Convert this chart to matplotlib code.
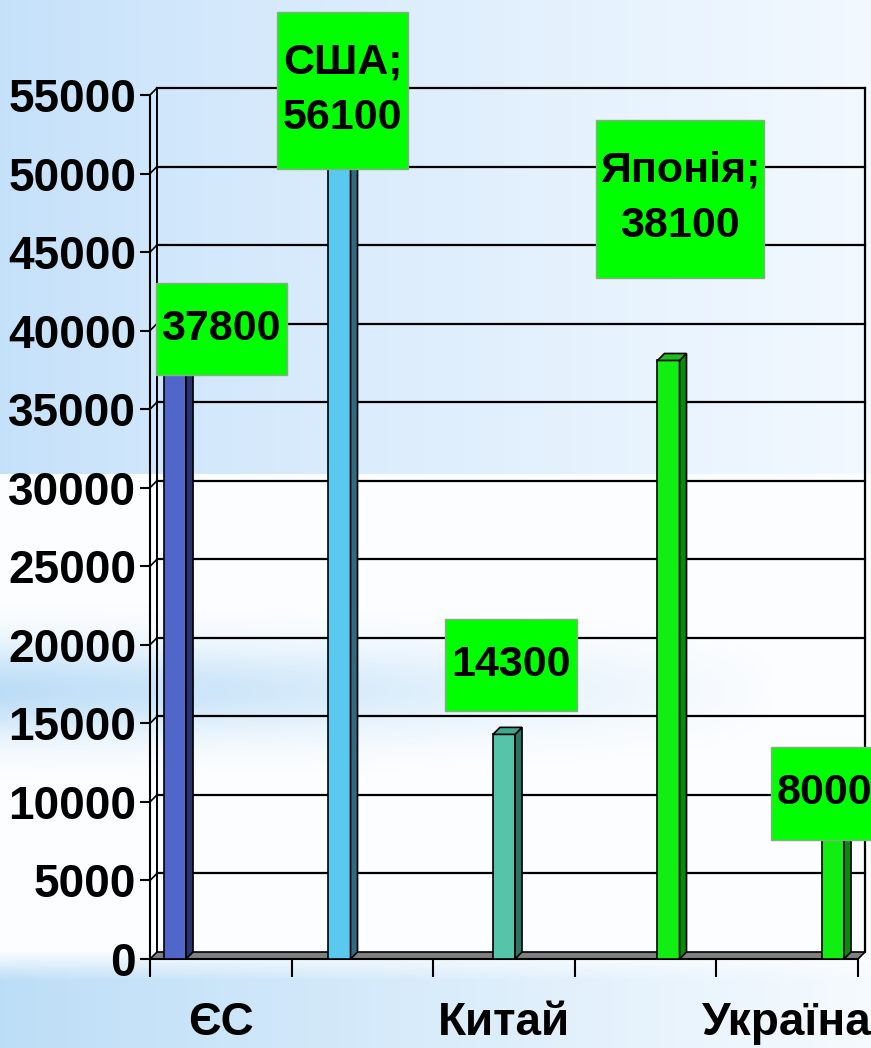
import numpy as np
import matplotlib
matplotlib.use("Agg")
import matplotlib.pyplot as plt
from matplotlib.patches import Polygon, Rectangle

# data
countries = ["ЄС", "США", "Китай", "Японія", "Україна"]
values = [37800, 56100, 14300, 38100, 8000]
box_texts = ["37800", "США;\n56100", "14300", "Японія;\n38100", "8000"]
axis_labels = ["ЄС", "", "Китай", "", "Україна"]
yticks = list(range(0, 55001, 5000))

front_colors = ["#5066C8", "#5BC8F0", "#55C4A8", "#11EE11", "#11EE11"]
side_colors = ["#27336E", "#2E6A80", "#2E7462", "#0A8A0A", "#0A8A0A"]
top_colors = ["#6A80D8", "#7AD4F4", "#3FA88C", "#22BB22", "#22BB22"]
# green label boxes: centre offset from bar (x units), centre y value, size in px
box_pos = [(0.28, 40100), (0.02, 55300), (0.045, 18700), (0.07, 48400), (0.02, 10550)]
box_size = [(131, 92), (131, 157), (132, 92), (168, 158), (131, 93)]
text_dx = [0, 0, 0, 0, -0.07]

W, H = 871, 1048
fig = plt.figure(figsize=(W / 100, H / 100), dpi=100)

# background like the slide
bg = fig.add_axes([0, 0, 1, 1], zorder=-10)
yy, xx = np.mgrid[0:H, 0:W]
t = xx / W
light = np.array([0.77, 0.88, 0.98])
white = np.array([0.95, 0.975, 1.0])
img = light + (white - light) * t[..., None] ** 0.8
lower = (yy > 473)
img[lower] = (np.array([0.99, 0.995, 1.0]) * np.ones_like(img))[lower]
band = np.exp(-((yy - 690) / 45.0) ** 2) * np.clip(1 - t * 1.1, 0, 1)
band2 = np.clip((yy - 950) / 30.0, 0, 1) * np.clip(1 - t * 0.9, 0, 1)
mix = np.clip(np.maximum(band, band2), 0, 1)[..., None] * lower[..., None]
img = img * (1 - mix) + np.array([0.74, 0.87, 0.97]) * mix
bg.imshow(img, aspect="auto", extent=[0, 1, 0, 1])
bg.axis("off")

left, right, bot, top = 150, 858, 959, 95
ax = fig.add_axes([left / W, (H - bot) / H, (right - left) / W, (bot - top) / H])
ax.patch.set_alpha(0)
xl, xr = -0.152, 4.152
ax.set_xlim(xl, xr)
ax.set_ylim(0, 55000)
px_x = (xr - xl) / (right - left)
px_y = 55000 / (bot - top)
dx = 7 * px_x
dy = 7 * px_y

# back wall grid
for v in yticks[1:]:
    ax.plot([xl + dx, xr + dx], [v + dy, v + dy], color="black", lw=1.6, clip_on=False, zorder=1)
    ax.plot([xl, xl + dx], [v, v + dy], color="black", lw=1.2, clip_on=False, zorder=1)
ax.plot([xl + dx, xl + dx], [dy, 55000 + dy], color="black", lw=1.4, clip_on=False, zorder=1)
ax.plot([xr + dx, xr + dx], [dy, 55000 + dy], color="black", lw=1.6, clip_on=False, zorder=1)

# floor
ax.add_patch(Polygon([(xl, 0), (xr, 0), (xr + dx, dy), (xl + dx, dy)], closed=True,
                     facecolor="#808080", edgecolor="black", lw=1.2, clip_on=False, zorder=2))

# bars
w = 0.134
x = np.arange(len(values))
ax.bar(x, values, width=w, color=front_colors, edgecolor="black", lw=1.2, zorder=3)
for i, v in enumerate(values):
    r = x[i] + w / 2
    ax.add_patch(Polygon([(r, 0), (r + dx, dy), (r + dx, v + dy), (r, v)], closed=True,
                         facecolor=side_colors[i], edgecolor="black", lw=1.2, zorder=3))
    ax.add_patch(Polygon([(r - w, v), (r, v), (r + dx, v + dy), (r - w + dx, v + dy)], closed=True,
                         facecolor=top_colors[i], edgecolor="black", lw=1.2, zorder=3))

# green label boxes
for i, txt in enumerate(box_texts):
    bx, by = box_pos[i]
    bw, bh = box_size[i]
    cx = x[i] + bx
    ax.add_patch(Rectangle((cx - bw * px_x / 2, by - bh * px_y / 2), bw * px_x, bh * px_y,
                           facecolor="#00FF00", edgecolor="#8AAA8A", lw=1, zorder=9, clip_on=False))
    ax.text(cx + text_dx[i], by, txt, ha="center", va="center", fontsize=31, fontweight="bold",
            family="Liberation Sans", linespacing=1.5, zorder=10, clip_on=False)

# axes
for s in ["top", "right"]:
    ax.spines[s].set_visible(False)
ax.spines["left"].set_linewidth(1.5)
ax.spines["bottom"].set_linewidth(1.5)
ax.spines["bottom"].set_zorder(2.5)
ax.set_yticks(yticks)
ax.set_yticklabels([str(v) for v in yticks], fontsize=33, fontweight="bold",
                   family="Liberation Sans")
ax.tick_params(axis="y", length=7, width=1.5, pad=3)

bounds = np.linspace(xl, xr, len(countries) + 1)
ax.set_xticks(bounds)
ax.set_xticklabels([""] * len(bounds))
ax.tick_params(axis="x", which="major", length=13, width=1.5)
ax.set_xticks((bounds[:-1] + bounds[1:]) / 2, minor=True)
ax.set_xticklabels(axis_labels, minor=True, fontsize=33, fontweight="bold",
                   family="Liberation Sans")
ax.tick_params(axis="x", which="minor", length=0, pad=30)

fig.savefig("out.png", dpi=100)
